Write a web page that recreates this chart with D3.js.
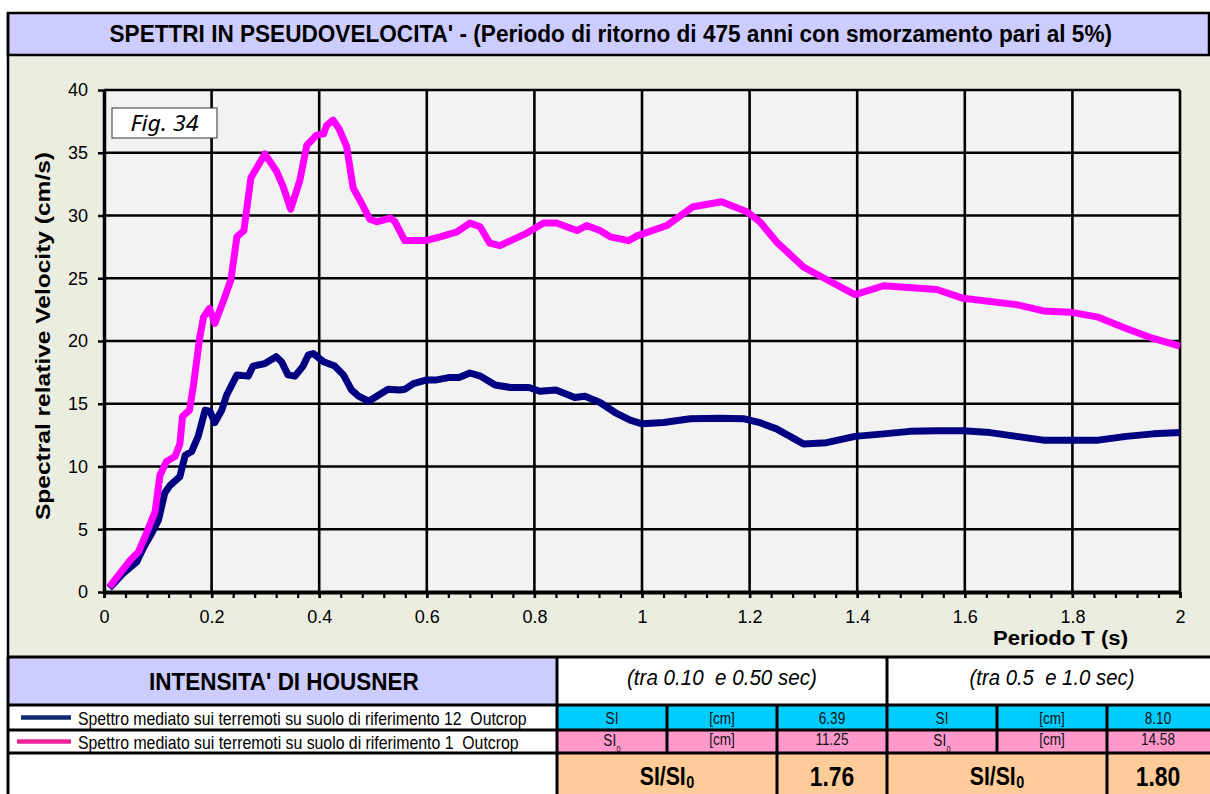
<!DOCTYPE html>
<html>
<head>
<meta charset="utf-8">
<script src="https://cdn.jsdelivr.net/npm/d3@7"></script>
<style>
  body { margin: 0; background: #fff; }
  svg { display: block; }
  text { white-space: pre; }
</style>
</head>
<body>
<svg id="chart" width="1210" height="794"></svg>
<script>
// ---- Spectral data (period T in s, relative velocity in cm/s) ----
const periods12 = [0.01, 0.036, 0.061, 0.073, 0.089, 0.101, 0.113, 0.123, 0.141, 0.151, 0.163, 0.175, 0.188, 0.197, 0.206, 0.219, 0.228, 0.247, 0.268, 0.277, 0.299, 0.32, 0.33, 0.342, 0.355, 0.37, 0.38, 0.389, 0.408, 0.429, 0.445, 0.46, 0.473, 0.492, 0.507, 0.528, 0.55, 0.559, 0.575, 0.6, 0.618, 0.643, 0.66, 0.68, 0.70, 0.727, 0.755, 0.79, 0.81, 0.84, 0.875, 0.894, 0.922, 0.95, 0.978, 1.0, 1.04, 1.09, 1.145, 1.19, 1.219, 1.25, 1.30, 1.343, 1.396, 1.449, 1.498, 1.548, 1.597, 1.647, 1.696, 1.746, 1.796, 1.848, 1.90, 1.95, 2.0];
const velocity12 = [0.3, 1.5, 2.4, 3.5, 4.7, 5.7, 7.9, 8.5, 9.2, 10.9, 11.2, 12.4, 14.5, 14.4, 13.5, 14.5, 15.7, 17.3, 17.2, 18.0, 18.2, 18.75, 18.35, 17.3, 17.2, 18.0, 18.9, 19.0, 18.35, 18.0, 17.3, 16.1, 15.6, 15.2, 15.6, 16.15, 16.1, 16.15, 16.6, 16.9, 16.9, 17.1, 17.1, 17.45, 17.2, 16.5, 16.3, 16.3, 16.0, 16.1, 15.5, 15.6, 15.1, 14.3, 13.7, 13.4, 13.5, 13.8, 13.85, 13.8, 13.5, 13.0, 11.8, 11.9, 12.4, 12.6, 12.8, 12.85, 12.85, 12.7, 12.4, 12.1, 12.1, 12.1, 12.4, 12.6, 12.7];

const periods1 = [0.01, 0.03, 0.048, 0.064, 0.079, 0.095, 0.104, 0.116, 0.132, 0.141, 0.146, 0.159, 0.166, 0.178, 0.185, 0.196, 0.206, 0.222, 0.236, 0.247, 0.26, 0.273, 0.299, 0.321, 0.333, 0.347, 0.364, 0.377, 0.395, 0.408, 0.414, 0.426, 0.437, 0.451, 0.463, 0.476, 0.494, 0.507, 0.532, 0.541, 0.559, 0.597, 0.625, 0.656, 0.68, 0.699, 0.717, 0.736, 0.761, 0.786, 0.817, 0.841, 0.866, 0.879, 0.897, 0.922, 0.941, 0.975, 0.992, 1.046, 1.095, 1.148, 1.195, 1.219, 1.25, 1.30, 1.343, 1.396, 1.449, 1.548, 1.597, 1.696, 1.746, 1.796, 1.848, 1.90, 1.95, 2.0];
const velocity1 = [0.4, 1.5, 2.5, 3.2, 4.7, 6.4, 9.3, 10.4, 10.8, 11.8, 14.0, 14.5, 16.4, 20.3, 21.9, 22.6, 21.4, 23.2, 24.9, 28.3, 28.8, 33.0, 34.9, 33.5, 32.3, 30.5, 32.8, 35.6, 36.4, 36.5, 37.2, 37.6, 36.9, 35.5, 32.2, 31.2, 29.7, 29.5, 29.8, 29.5, 28.0, 28.0, 28.3, 28.7, 29.4, 29.1, 27.8, 27.6, 28.1, 28.6, 29.4, 29.4, 29.0, 28.8, 29.2, 28.8, 28.3, 28.0, 28.4, 29.2, 30.7, 31.1, 30.3, 29.5, 27.9, 25.9, 24.9, 23.7, 24.4, 24.1, 23.4, 22.9, 22.4, 22.3, 21.9, 21.0, 20.2, 19.6];

// ---- Axis ticks ----
const xTicks = [0, 0.2, 0.4, 0.6, 0.8, 1, 1.2, 1.4, 1.6, 1.8, 2];
const xTickLabels = ["0", "0.2", "0.4", "0.6", "0.8", "1", "1.2", "1.4", "1.6", "1.8", "2"];
const xMinorTicks = d3.range(0, 51).map(i => i * 0.04);
const yTicks = [0, 5, 10, 15, 20, 25, 30, 35, 40];

// ---- Housner intensity table ----
const seriesNames = [
  "Spettro mediato sui terremoti su suolo di riferimento 12  Outcrop",
  "Spettro mediato sui terremoti su suolo di riferimento 1  Outcrop"
];
const intervals = ["(tra 0.10  e 0.50 sec)", "(tra 0.5  e 1.0 sec)"];
const siValues = [6.39, 8.10];
const si0Values = [11.25, 14.58];
const ratioValues = [1.76, 1.80];

// ---- Styling ----
const NAVY = "#000080", MAGENTA = "#ff00ff";
const LAVENDER = "#ccccff", CYAN = "#00ccff", PINK = "#ff99cc", ORANGE = "#ffcc99";
const BEIGE = "#ebede0", PLOTBG = "#f2f2f2";
const SANS = "'Liberation Sans', Arial, sans-serif";

const svg = d3.select("#chart");

// Text squeezed horizontally (narrow face look) via a scale transform.
// anchor: "start" | "middle"; width: target width, or factor when width is null.
function squeezed(parent, x, y, str, attrs, anchor, width, factor = 0.8) {
  const t = parent.append("text").attr("x", 0).attr("y", 0).text(str);
  Object.entries(attrs).forEach(([k, v]) => t.attr(k, v));
  const len = t.node().getComputedTextLength();
  const f = width ? width / len : factor;
  const x0 = anchor === "middle" ? x - len * f / 2 : x;
  t.attr("transform", `translate(${x0},${y}) scale(${f},1)`);
  return t;
}

// Label with a subscript, drawn as two adjacent texts inside a squeezed group.
function withSub(parent, cx, y, main, sub, attrs, subSize, subDy, factor) {
  const g = parent.append("g");
  const a = g.append("text").attr("x", 0).attr("y", 0).text(main);
  Object.entries(attrs).forEach(([k, v]) => a.attr(k, v));
  const w1 = a.node().getComputedTextLength();
  const b = g.append("text").attr("x", w1 + 0.5).attr("y", subDy).text(sub);
  Object.entries(attrs).forEach(([k, v]) => b.attr(k, v));
  b.attr("font-size", subSize);
  const w2 = b.node().getComputedTextLength();
  const total = (w1 + 0.5 + w2) * factor;
  g.attr("transform", `translate(${cx - total / 2},${y}) scale(${factor},1)`);
  return g;
}

// frame background
svg.append("rect").attr("x", 8).attr("y", 12).attr("width", 1202).attr("height", 644).attr("fill", BEIGE);

// title bar
svg.append("rect").attr("x", 8).attr("y", 13).attr("width", 1201).attr("height", 42)
  .attr("fill", LAVENDER).attr("stroke", "#000").attr("stroke-width", 2.5);
squeezed(svg, 611, 42, "SPETTRI IN PSEUDOVELOCITA' - (Periodo di ritorno di 475 anni con smorzamento pari al 5%)",
  { "font-family": SANS, "font-weight": "bold", "font-size": 24 }, "middle", 1003);

// ---- Plot ----
const x = d3.scaleLinear().domain([0, 2]).range([104, 1180]);
const y = d3.scaleLinear().domain([0, 40]).range([592, 90]);

svg.append("rect").attr("x", x(0)).attr("y", y(40)).attr("width", x(2) - x(0)).attr("height", y(0) - y(40))
  .attr("fill", PLOTBG);

const grid = svg.append("g").attr("stroke", "#000").attr("stroke-width", 2.6);
grid.selectAll("line.v").data(xTicks.slice(1)).join("line").attr("class", "v")
  .attr("x1", d => x(d)).attr("x2", d => x(d)).attr("y1", y(0)).attr("y2", y(40));
grid.selectAll("line.h").data(yTicks.slice(1)).join("line").attr("class", "h")
  .attr("x1", x(0)).attr("x2", x(2)).attr("y1", d => y(d)).attr("y2", d => y(d));

// y axis
const yAxis = svg.append("g").attr("transform", `translate(${x(0)},0)`)
  .call(d3.axisLeft(y).tickValues(yTicks).tickSize(6).tickSizeOuter(0).tickPadding(10));
yAxis.select(".domain").attr("stroke", "#000").attr("stroke-width", 3.5);
yAxis.selectAll(".tick line").attr("stroke", "#000").attr("stroke-width", 2.5);
yAxis.selectAll(".tick text").attr("font-family", SANS).attr("font-size", 18).attr("fill", "#000");

// x axis: minor ticks, then labelled major ticks
const xMinor = svg.append("g").attr("transform", `translate(0,${y(0)})`)
  .call(d3.axisBottom(x).tickValues(xMinorTicks).tickSize(6).tickSizeOuter(0).tickFormat(""));
xMinor.select(".domain").remove();
xMinor.selectAll(".tick line").attr("stroke", "#000").attr("stroke-width", 2.2);

const xAxis = svg.append("g").attr("transform", `translate(0,${y(0)})`)
  .call(d3.axisBottom(x).tickValues(xTicks).tickSize(6).tickSizeOuter(0).tickPadding(12)
    .tickFormat((d, i) => xTickLabels[i]));
xAxis.select(".domain").attr("stroke", "#000").attr("stroke-width", 4);
xAxis.selectAll(".tick line").attr("stroke", "#000").attr("stroke-width", 2.5);
xAxis.selectAll(".tick text").attr("font-family", SANS).attr("font-size", 18).attr("fill", "#000");

// axis titles
svg.append("text").attr("transform", "translate(50,336) rotate(-90)").attr("text-anchor", "middle")
  .attr("font-family", SANS).attr("font-weight", "bold").attr("font-size", 21)
  .attr("textLength", 368).attr("lengthAdjust", "spacingAndGlyphs")
  .text("Spectral relative Velocity (cm/s)");
svg.append("text").attr("x", 993).attr("y", 645)
  .attr("font-family", SANS).attr("font-weight", "bold").attr("font-size", 20)
  .attr("textLength", 135).attr("lengthAdjust", "spacingAndGlyphs")
  .text("Periodo T (s)");

// series lines
const line = d3.line().x(d => x(d[0])).y(d => y(d[1]));
const series = [
  { t: periods12, v: velocity12, color: NAVY },
  { t: periods1, v: velocity1, color: MAGENTA }
];
svg.append("g").selectAll("path").data(series).join("path")
  .attr("d", s => line(s.t.map((t, i) => [t, s.v[i]])))
  .attr("fill", "none").attr("stroke", s => s.color).attr("stroke-width", 7)
  .attr("stroke-linejoin", "round");

// figure tag
svg.append("rect").attr("x", 112).attr("y", 108).attr("width", 105).attr("height", 30)
  .attr("fill", "#fff").attr("stroke", "#333").attr("stroke-width", 1);
svg.append("text").attr("x", 164.5).attr("y", 131).attr("text-anchor", "middle")
  .attr("font-family", "'Noto Sans', 'Open Sans', sans-serif").attr("font-style", "italic").attr("font-size", 21)
  .attr("textLength", 68).attr("lengthAdjust", "spacingAndGlyphs")
  .text("Fig. 34");

// ---- Table ----
const T = svg.append("g");
const rowsY = [657, 705, 730, 753, 794];
const colL = 8, colM = 557, colR = 1210;

// cell fills
T.append("rect").attr("x", colL).attr("y", rowsY[0]).attr("width", colM - colL).attr("height", rowsY[1] - rowsY[0]).attr("fill", LAVENDER);
T.append("rect").attr("x", colM).attr("y", rowsY[0]).attr("width", colR - colM).attr("height", rowsY[1] - rowsY[0]).attr("fill", "#fff");
T.append("rect").attr("x", colL).attr("y", rowsY[1]).attr("width", colM - colL).attr("height", rowsY[4] - rowsY[1]).attr("fill", "#fff");
[CYAN, PINK, ORANGE].forEach((c, i) => {
  T.append("rect").attr("x", colM).attr("y", rowsY[i + 1]).attr("width", colR - colM)
    .attr("height", rowsY[i + 2] - rowsY[i + 1]).attr("fill", c);
});

// borders
const bw = 3;
rowsY.slice(0, 4).forEach(yy => {
  T.append("line").attr("x1", colL).attr("x2", colR).attr("y1", yy).attr("y2", yy)
    .attr("stroke", "#000").attr("stroke-width", bw);
});
[[colL, rowsY[0], 794], [colM, rowsY[0], 794], [887, rowsY[0], 794],
 [667, rowsY[1], rowsY[3]], [777, rowsY[1], 794], [997, rowsY[1], rowsY[3]], [1107, rowsY[1], 794]]
  .forEach(([xx, y1, y2]) => {
    T.append("line").attr("x1", xx).attr("x2", xx).attr("y1", y1).attr("y2", y2)
      .attr("stroke", "#000").attr("stroke-width", bw);
  });
// outer left frame along the chart
svg.append("line").attr("x1", colL).attr("x2", colL).attr("y1", 13).attr("y2", 657)
  .attr("stroke", "#000").attr("stroke-width", 2.5);

// header texts
squeezed(T, 284, 690, "INTENSITA' DI HOUSNER",
  { "font-family": SANS, "font-weight": "bold", "font-size": 24 }, "middle", 270);
const intervalCenters = [722, 1052], intervalWidths = [190, 165];
intervals.forEach((s, i) => {
  squeezed(T, intervalCenters[i], 685, s,
    { "font-family": SANS, "font-style": "italic", "font-size": 22 }, "middle", intervalWidths[i]);
});

// legend rows
const legendColors = ["#0f2a6e", "#f0259a"];
const legendY = [717.5, 741.5], legendX1 = [21, 17], legendWidths = [449, 441];
seriesNames.forEach((name, i) => {
  T.append("line").attr("x1", legendX1[i]).attr("x2", 71).attr("y1", legendY[i]).attr("y2", legendY[i])
    .attr("stroke", legendColors[i]).attr("stroke-width", 4.5);
  squeezed(T, 78, legendY[i] + 7, name, { "font-family": SANS, "font-size": 18 }, "start", legendWidths[i]);
});

// SI / SI0 rows
const cellCenters = [[612, 722, 832], [942, 1052, 1158]];
const cellText = { "font-family": SANS, "font-size": 17, "fill": "#111" };
[0, 1].forEach(k => {
  const [c1, c2, c3] = cellCenters[k];
  squeezed(T, c1, 724, "SI", cellText, "middle");
  squeezed(T, c2, 724, "[cm]", cellText, "middle");
  squeezed(T, c3, 724, siValues[k].toFixed(2), cellText, "middle");
  withSub(T, c1, 746, "SI", "0", cellText, 9, 6, 0.8);
  squeezed(T, c2, 745, "[cm]", cellText, "middle");
  squeezed(T, c3, 745, si0Values[k].toFixed(2), cellText, "middle");
});

// ratio row
const ratioLabelCenters = [667, 997], ratioValueCenters = [832, 1158];
const ratioText = { "font-family": SANS, "font-weight": "bold", "font-size": 25, "fill": "#000" };
[0, 1].forEach(k => {
  withSub(T, ratioLabelCenters[k], 785, "SI/SI", "0", ratioText, 17, 3, 0.85);
  squeezed(T, ratioValueCenters[k], 786, ratioValues[k].toFixed(2),
    { "font-family": SANS, "font-weight": "bold", "font-size": 27 }, "middle", null, 0.85);
});
</script>
</body>
</html>
